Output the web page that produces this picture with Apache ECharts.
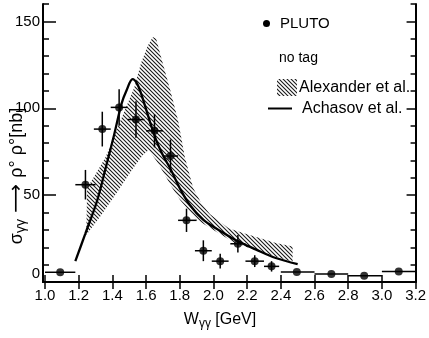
<!DOCTYPE html>
<html><head><meta charset="utf-8">
<script src="https://cdn.jsdelivr.net/npm/echarts@6/dist/echarts.min.js"></script>
<style>html,body{margin:0;padding:0;background:#fff}#c{width:429px;height:338px}</style>
</head><body><div id="c"></div>
<script>
// ---- axis ticks / labels ----
const xTicks = [1.0,1.2,1.4,1.6,1.8,2.0,2.2,2.4,2.6,2.8,3.0,3.2];
const yTicks = [0,10,20,30,40,50,60,70,80,90,100,110,120,130,140,150,160];
const yLabels = [0,50,100,150];
const yMajor = [50,100,150];

// ---- PLUTO data (no tag) ----
const plutoW   = [1.09, 1.24, 1.34, 1.44, 1.54, 1.65, 1.745, 1.84, 1.94, 2.04, 2.145, 2.245, 2.345, 2.495, 2.70, 2.895, 3.10];
const plutoV   = [5.6, 56, 88, 100.5, 93.5, 87, 72.5, 35.5, 18, 12, 22, 12, 9, 5.8, 4.6, 3.6, 6.1];
const plutoErr = [0, 8.5, 10, 10.5, 10.5, 9.5, 9.5, 6.7, 6, 4.3, 5, 3.4, 3, 0, 0, 0, 0];
const plutoLo  = [1.0, 1.18, 1.29, 1.39, 1.49, 1.60, 1.70, 1.79, 1.89, 1.99, 2.10, 2.19, 2.30, 2.40, 2.60, 2.80, 3.00];
const plutoHi  = [1.18, 1.30, 1.39, 1.49, 1.59, 1.70, 1.79, 1.90, 1.99, 2.09, 2.19, 2.30, 2.39, 2.60, 2.80, 3.00, 3.20];

// ---- Achasov et al. curve ----
const achasovW = [1.18, 1.24, 1.31, 1.36, 1.41, 1.455, 1.485, 1.52, 1.545, 1.57, 1.62, 1.66, 1.70, 1.745, 1.80, 1.86, 1.94, 2.03, 2.13, 2.25, 2.37, 2.5];
const achasovV = [12, 28, 47, 65.6, 84.6, 102.8, 110.5, 116.8, 114.5, 108.6, 93.2, 81.7, 73, 65, 54, 44.3, 35.7, 30, 24.2, 18.8, 13.8, 10.3];

// ---- Alexander et al. band ----
const alexUpperW = [1.25, 1.30, 1.36, 1.44, 1.53, 1.57, 1.61, 1.64, 1.66, 1.69, 1.745, 1.79, 1.83, 1.88, 1.93, 1.98, 2.09, 2.18, 2.25, 2.37, 2.47];
const alexUpperV = [54, 62, 72, 91, 112, 126, 136, 141, 140, 129, 110, 93, 72, 54, 45, 39, 31, 28, 26, 22.5, 20.5];
const alexLowerW = [1.245, 1.33, 1.43, 1.52, 1.58, 1.615, 1.66, 1.707, 1.75, 1.803, 1.9, 2.0, 2.13, 2.25, 2.37, 2.47];
const alexLowerV = [27, 38, 52, 65, 73, 76, 70, 62.5, 55, 47, 36, 30, 22.3, 18.4, 14.5, 11.7];

const hatchCanvas = (function(){
  const c = document.createElement('canvas'); c.width = 4; c.height = 4;
  const g = c.getContext('2d');
  g.strokeStyle = '#1a1a1a'; g.lineWidth = 1.1;
  g.beginPath();
  g.moveTo(-1,-1); g.lineTo(5,5);
  g.moveTo(-1,3); g.lineTo(1,5);
  g.moveTo(3,-1); g.lineTo(5,1);
  g.stroke();
  return c;
})();
const hatch = {image: hatchCanvas, repeat: 'repeat'};

const FONT = '"Liberation Sans", Arial, sans-serif';
const chart = echarts.init(document.getElementById('c'), null, {renderer: 'canvas'});

const gridBox = {left: 43, right: 5, top: 4, bottom: 56};
const axLine = {show: true, lineStyle: {color: '#000', width: 2}};

const option = {
  animation: false,
  backgroundColor: '#fff',
  grid: gridBox,
  xAxis: [
    {type: 'value', min: 0.988, max: 3.2, position: 'bottom',
     axisLine: axLine, splitLine: {show: false},
     axisTick: {show: true, inside: true, length: 7, customValues: xTicks, lineStyle: {color: '#000', width: 1.5}},
     axisLabel: {show: true, customValues: xTicks, margin: 6, color: '#000', fontFamily: FONT, fontSize: 15,
       formatter: v => v.toFixed(1)}},
    {type: 'value', min: 0.988, max: 3.2, position: 'top',
     axisLine: axLine, splitLine: {show: false},
     axisTick: {show: true, inside: true, length: 7, customValues: xTicks, lineStyle: {color: '#000', width: 1.5}},
     axisLabel: {show: false}}
  ],
  yAxis: [
    {type: 'value', min: 0, max: 160, position: 'left',
     axisLine: axLine, splitLine: {show: false},
     axisTick: {show: true, inside: true, length: 6, customValues: yTicks, lineStyle: {color: '#000', width: 1.5}},
     axisLabel: {show: true, customValues: yLabels, margin: 3, color: '#000', fontFamily: FONT, fontSize: 15,
       formatter: v => v === 0 ? '{z|0}' : String(v),
       rich: {z: {fontFamily: FONT, fontSize: 15, color: '#000', padding: [0, 0, 16, 0]}}}},
    {type: 'value', min: 0, max: 160, position: 'right',
     axisLine: axLine, splitLine: {show: false},
     axisTick: {show: true, inside: true, length: 5, customValues: yTicks, lineStyle: {color: '#000', width: 1.5}},
     axisLabel: {show: false}},
    {type: 'value', min: 0, max: 160, position: 'left',
     axisLine: {show: false}, splitLine: {show: false},
     axisTick: {show: true, inside: true, length: 13, customValues: yMajor, lineStyle: {color: '#000', width: 1.5}},
     axisLabel: {show: false}},
    {type: 'value', min: 0, max: 160, position: 'right',
     axisLine: {show: false}, splitLine: {show: false},
     axisTick: {show: true, inside: true, length: 9, customValues: yMajor, lineStyle: {color: '#000', width: 1.5}},
     axisLabel: {show: false}}
  ],
  series: [
    {
      type: 'custom', name: 'Alexander et al.', xAxisIndex: 0, yAxisIndex: 0,
      data: [[alexUpperW[0], alexUpperV[0]]],
      renderItem: function (params, api) {
        const pts = [];
        for (let i = 0; i < alexUpperW.length; i++) pts.push(api.coord([alexUpperW[i], alexUpperV[i]]));
        for (let i = alexLowerW.length - 1; i >= 0; i--) pts.push(api.coord([alexLowerW[i], alexLowerV[i]]));
        return {type: 'polygon', shape: {points: pts}, style: {fill: hatch, stroke: null}};
      },
      z: 1
    },
    {
      type: 'line', name: 'Achasov et al.', xAxisIndex: 0, yAxisIndex: 0,
      data: achasovW.map((w, i) => [w, achasovV[i]]),
      smooth: 0.35, showSymbol: false, symbol: 'none',
      lineStyle: {color: '#000', width: 2.3}, z: 3
    },
    {
      type: 'custom', name: 'errors', xAxisIndex: 0, yAxisIndex: 0,
      data: plutoW.map((w, i) => [w, plutoV[i], plutoErr[i], plutoLo[i], plutoHi[i]]),
      encode: {x: 0, y: 1},
      renderItem: function (params, api) {
        const w = api.value(0), v = api.value(1), e = api.value(2), lo = api.value(3), hi = api.value(4);
        const a = api.coord([w, v - e]), b = api.coord([w, v + e]);
        const c = api.coord([lo, v]), d = api.coord([hi, v]);
        const st = {stroke: '#000', lineWidth: 1.5};
        const ch = [{type: 'line', shape: {x1: c[0], y1: c[1], x2: d[0], y2: d[1]}, style: st}];
        if (e > 0) ch.push({type: 'line', shape: {x1: a[0], y1: a[1], x2: b[0], y2: b[1]}, style: st});
        return {type: 'group', children: ch};
      },
      z: 4
    },
    {
      type: 'scatter', name: 'PLUTO', xAxisIndex: 0, yAxisIndex: 0,
      data: plutoW.map((w, i) => [w, plutoV[i]]),
      symbol: 'circle', symbolSize: 8, itemStyle: {color: '#000'}, z: 5
    }
  ],
  graphic: [
    // legend
    {type: 'circle', shape: {cx: 266.5, cy: 23.5, r: 3.5}, style: {fill: '#000'}},
    {type: 'text', x: 280, y: 23.5, style: {text: 'PLUTO', font: '15px ' + FONT, fill: '#000', verticalAlign: 'middle'}},
    {type: 'text', x: 279, y: 58, style: {text: 'no tag', font: '14px ' + FONT, fill: '#000', verticalAlign: 'middle'}},
    {type: 'rect', shape: {x: 277, y: 79, width: 20, height: 17}, style: {fill: hatch}},
    {type: 'text', x: 299, y: 87.5, style: {text: 'Alexander et al.', font: '16px ' + FONT, fill: '#000', verticalAlign: 'middle'}},
    {type: 'line', shape: {x1: 268, y1: 108.5, x2: 292, y2: 108.5}, style: {stroke: '#000', lineWidth: 2}},
    {type: 'text', x: 302, y: 108.5, style: {text: 'Achasov et al.', font: '16px ' + FONT, fill: '#000', verticalAlign: 'middle'}},
    // x axis title
    {type: 'text', x: 220, y: 320, style: {
      text: '{a|W}{s|γγ}{a| [GeV]}', align: 'center', verticalAlign: 'middle',
      rich: {a: {font: '16px ' + FONT, fill: '#000', color: '#000'},
             s: {font: '12px ' + FONT, fill: '#000', color: '#000', padding: [8, 0, 0, 0]}}}},
    // y axis title
    {type: 'text', x: 17, y: 176, rotation: Math.PI / 2, style: {
      text: '{a|σ}{s|γγ}{b| ⟶ }{a|ρ° ρ°[nb]}', align: 'center', verticalAlign: 'middle',
      rich: {a: {font: '18px ' + FONT, fill: '#000', color: '#000'},
             s: {font: '14px ' + FONT, fill: '#000', color: '#000', padding: [9, 0, 0, 0]},
             b: {font: '20px "DejaVu Sans", sans-serif', fill: '#000', color: '#000'}}}}
  ]
};
chart.setOption(option);
</script>
</body></html>
